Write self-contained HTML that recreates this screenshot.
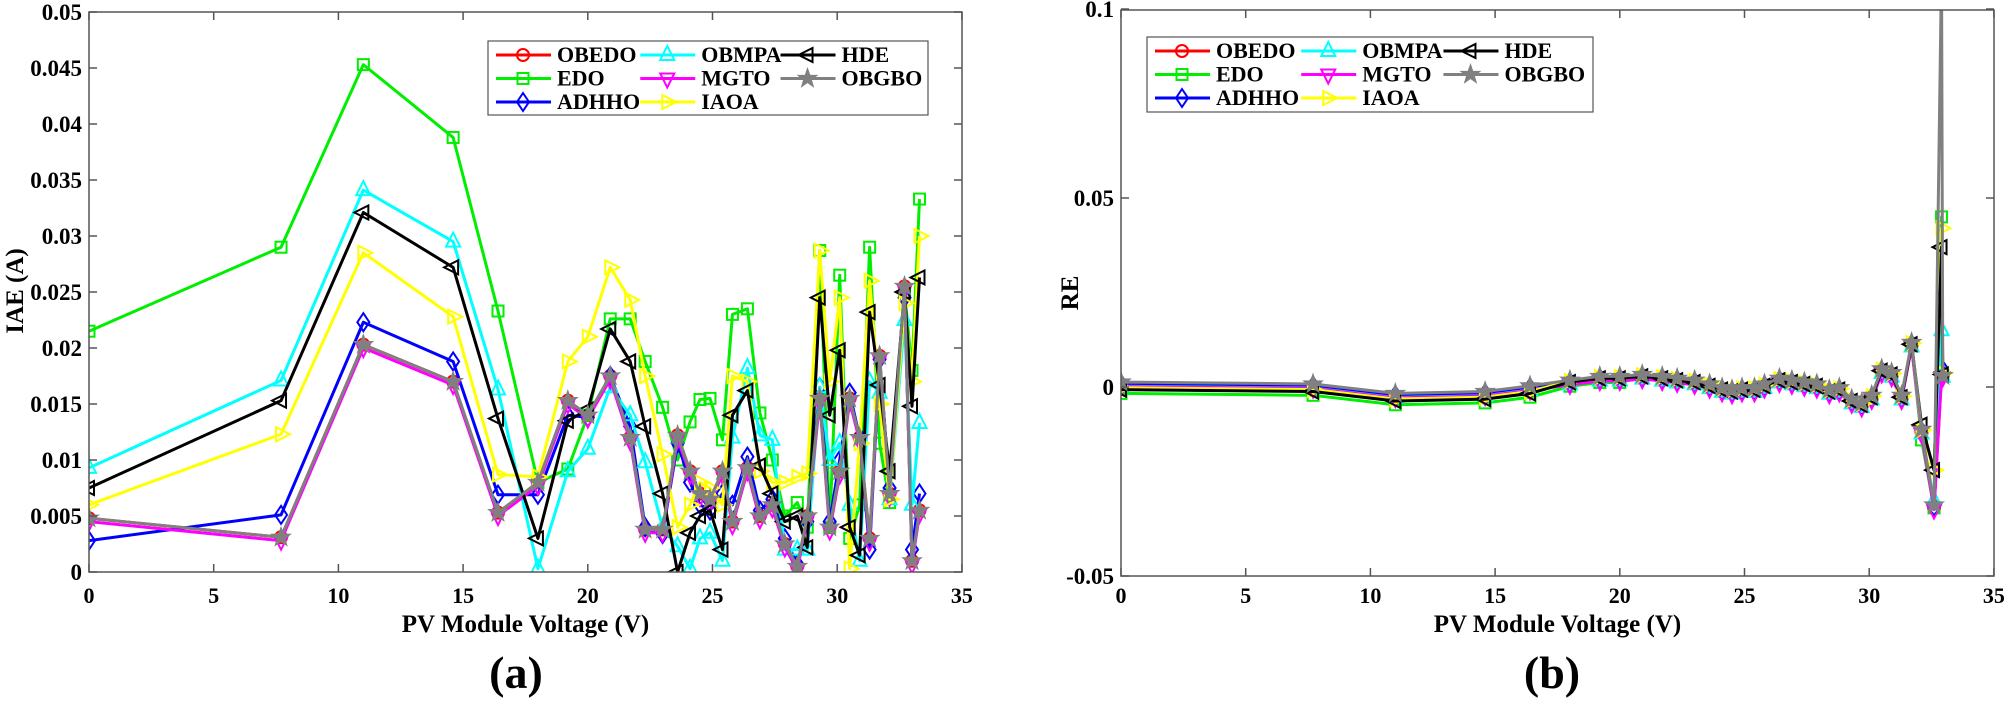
<!DOCTYPE html>
<html><head><meta charset="utf-8">
<style>
html,body{margin:0;padding:0;background:#fff;font-family:"Liberation Serif","DejaVu Serif",serif;}
svg{display:block;}
text{font-family:"Liberation Serif","DejaVu Serif",serif;font-weight:bold;fill:#000;}
</style></head>
<body>
<svg id="s" xmlns="http://www.w3.org/2000/svg" width="2007" height="702" viewBox="0 0 2007 702">
<rect width="2007" height="702" fill="#fff"/>
<defs>
<clipPath id="cl"><rect x="89" y="12" width="873" height="560"/></clipPath>
<clipPath id="cr"><rect x="1121" y="10" width="873" height="566"/></clipPath>
</defs>
<g id="L" clip-path="url(#cl)"></g>
<g id="R" clip-path="url(#cr)"></g>
<g id="ax"></g>
</svg>
<script>
const NS="http://www.w3.org/2000/svg";
function el(p,t,a){const e=document.createElementNS(NS,t);for(const k in a)e.setAttribute(k,a[k]);if(t==='text'){e.setAttribute('font-family','Liberation Serif, DejaVu Serif, serif');e.setAttribute('font-weight','bold');e.style.fontFamily='"Liberation Serif","DejaVu Serif",serif';}p.appendChild(e);return e;}
const svg=document.getElementById('s'),AX=document.getElementById('ax');
const X=[0,7.7,11,14.6,16.4,18,19.2,20,20.9,21.7,22.3,23,23.6,24.1,24.5,24.9,25.4,25.8,26.4,26.9,27.4,27.9,28.4,28.8,29.3,29.7,30.1,30.5,30.9,31.3,31.7,32.1,32.7,33.0,33.3];
const XR=[0,7.7,11,14.6,16.4,18,19.2,20,20.9,21.7,22.3,23,23.6,24.1,24.5,24.9,25.4,25.8,26.4,26.9,27.4,27.9,28.4,28.8,29.3,29.7,30.1,30.5,30.9,31.3,31.7,32.1,32.6,32.9,32.95];
const S={
EDO:[21.5,29,45.3,38.8,23.3,8,9.2,14,22.6,22.6,18.8,14.7,10,13.4,15.4,15.5,11.8,23,23.5,14.2,10,5,6.2,4,28.7,4,26.5,3,6,29,11.5,6.2,25,18,33.3],
OBMPA:[9.3,17.1,34.1,29.5,16.3,0.3,9,11,16.5,14,9.8,4,2.3,0.3,3,3.5,1,12,18.2,12.2,11.8,2,2,2,16.5,10,11.5,6,1,17,16,6.5,22.5,6,13.3],
HDE:[7.5,15.3,32.1,27.2,13.7,3,13.5,14.5,21.7,18.8,13,7,0,3.5,5,5.5,2,14,16.2,9.5,7,4.5,5,2.2,24.5,14,19.8,4,1.5,23.2,16.7,9,25,14.8,26.3],
IAOA:[6,12.3,28.5,22.8,8.7,8.5,18.8,21,27.2,24.3,17.5,10.5,4,6,8,7.5,6,17.5,17,9,8,8,8.5,8.8,28.7,17,24.5,0.3,11.5,26,15,6.5,24,17,30],
ADHHO:[2.8,5.1,22.3,18.8,6.9,6.9,14,13.8,17.5,13,4,3.4,11.5,8,6,5.5,7,6,10.3,5.5,6.5,3,0.7,4.5,16.5,4.5,10,16,12,2,19,7.5,24.5,2,7],
G:[4.8,3.1,20.3,17,5.3,8,15.3,14,17.5,12,3.8,3.8,12.2,9,7,6.5,9,4.5,9.3,5,6,2.5,0.5,5,15.5,4,9,15.5,12,3,19.3,7,25.5,1,5.5]};
const RB=[0.5,0,-2.5,-2,-0.5,1,2,2,2.5,2,1.5,1,0,-1,-1.5,-1,-1,0,1.5,1,0.5,0,-1.5,-1,-4,-5,-3,4,3,-3,11,-12,-32,3,3];
function rs(off,over){return RB.map((v,i)=>(over&&over[i]!==undefined)?over[i]:v+(typeof off==='function'?off(i):off));}
const grOff=i=>i<5?-2.2:(i<8?-0.8:0);
const R={
OBEDO:rs(0),EDO:rs(grOff,{31:-14,33:45}),ADHHO:rs(0.3,{33:5}),OBMPA:rs(-0.3,{32:-30,33:15}),
MGTO:rs(-0.4),IAOA:rs(i=>i<5?-0.7:0.6,{33:42,32:-22}),HDE:rs(i=>i<5?-1.2:0.3,{33:37,32:-22,31:-10}),OBGBO:rs(0.8,{33:110,34:3})};
function marker(g,type,x,y,c){
 const w=2;
 const st={fill:'none',stroke:c,'stroke-width':w};
 if(type==='o')el(g,'circle',Object.assign({cx:x,cy:y,r:6},st));
 else if(type==='s')el(g,'rect',Object.assign({x:x-5.5,y:y-5.5,width:11,height:11},st));
 else if(type==='d')el(g,'polygon',Object.assign({points:`${x},${y-9} ${x+6},${y} ${x},${y+9} ${x-6},${y}`},st));
 else if(type==='^')el(g,'polygon',Object.assign({points:`${x},${y-9} ${x+7},${y+5} ${x-7},${y+5}`},st));
 else if(type==='v')el(g,'polygon',Object.assign({points:`${x},${y+9} ${x+7},${y-5} ${x-7},${y-5}`},st));
 else if(type==='>')el(g,'polygon',Object.assign({points:`${x+9},${y} ${x-5},${y+7} ${x-5},${y-7}`},st));
 else if(type==='<')el(g,'polygon',Object.assign({points:`${x-9},${y} ${x+5},${y+7} ${x+5},${y-7}`},st));
 else if(type==='*'){let p=[];for(let k=0;k<10;k++){const r=k%2?4:10,a=-Math.PI/2+k*Math.PI/5;p.push((x+r*Math.cos(a)).toFixed(1)+','+(y+r*Math.sin(a)).toFixed(1));}
  el(g,'polygon',{points:p.join(' '),fill:c,stroke:c,'stroke-width':1});}
}
function series(g,xs,ys,fx,fy,c,m){
 el(g,'polyline',{points:xs.map((x,i)=>fx(x)+','+fy(ys[i])).join(' '),fill:'none',stroke:c,'stroke-width':3,'stroke-linejoin':'round'});
 xs.forEach((x,i)=>marker(g,m,fx(x),fy(ys[i]),c));
}
const fxL=v=>89+v*24.94, fyL=v=>572-v*11.2;
const fxR=v=>1121+v*24.94, fyR=v=>387-v*3.78;
const L=document.getElementById('L'),Rg=document.getElementById('R');
const order=[['OBEDO','#ff0000','o'],['EDO','#00ee00','s'],['ADHHO','#0000ff','d'],['OBMPA','#00ffff','^'],['MGTO','#ff00ff','v'],['IAOA','#ffff00','>'],['HDE','#000000','<'],['OBGBO','#808080','*']];
const Lmap={OBEDO:S.G,EDO:S.EDO,ADHHO:S.ADHHO,OBMPA:S.OBMPA,MGTO:S.G.map(v=>v-0.3),IAOA:S.IAOA,HDE:S.HDE,OBGBO:S.G};
order.forEach(([n,c,m])=>{series(L,X,Lmap[n],fxL,fyL,c,m);series(Rg,XR,R[n],fxR,fyR,c,m);});
function axes(x0,y0,x1,y1,yt,fy){
 el(AX,'rect',{x:x0,y:y0,width:x1-x0,height:y1-y0,fill:'none',stroke:'#555','stroke-width':1.5});
 for(let v=0;v<=35;v+=5){const x=x0+v*24.94;
  el(AX,'line',{x1:x,y1:y1,x2:x,y2:y1-8,stroke:'#555','stroke-width':1.5});
  el(AX,'line',{x1:x,y1:y0,x2:x,y2:y0+8,stroke:'#555','stroke-width':1.5});
  const t=el(AX,'text',{x:x,y:603,'text-anchor':'middle','font-size':22});t.textContent=v;}
 yt.forEach(([v,s])=>{const y=fy(v);
  el(AX,'line',{x1:x0,y1:y,x2:x0+8,y2:y,stroke:'#555','stroke-width':1.5});
  el(AX,'line',{x1:x1,y1:y,x2:x1-8,y2:y,stroke:'#555','stroke-width':1.5});
  const t=el(AX,'text',{x:x0-7,y:y+8,'text-anchor':'end','font-size':23});t.textContent=s;});
 const t=el(AX,'text',{x:(x0+x1)/2,y:632,'text-anchor':'middle','font-size':25});t.textContent='PV Module Voltage (V)';
}
const ytl=[];for(let k=0;k<=10;k++){const v=k*5;ytl.push([v,k==0?'0':(v/1000).toString()]);}
axes(89,12,962,572,ytl,fyL);
axes(1121,10,1994,576,[[100,'0.1'],[50,'0.05'],[0,'0'],[-50,'-0.05']],fyR);
let t=el(AX,'text',{x:0,y:0,'text-anchor':'middle','font-size':25,transform:'translate(23,291) rotate(-90)'});t.textContent='IAE (A)';
t=el(AX,'text',{x:0,y:0,'text-anchor':'middle','font-size':25,transform:'translate(1078,293) rotate(-90)'});t.textContent='RE';
t=el(AX,'text',{x:516,y:688,'text-anchor':'middle','font-size':46});t.textContent='(a)';
t=el(AX,'text',{x:1552,y:688,'text-anchor':'middle','font-size':46});t.textContent='(b)';
function legend(x,y,w,h,fs){
 el(AX,'rect',{x:x,y:y,width:w,height:h,fill:'#fff',stroke:'#555','stroke-width':1.2});
 const cols=[[0,1,2],[3,4,5],[6,7]];const cw=w/3.05;
 cols.forEach((col,ci)=>col.forEach((idx,ri)=>{const [n,c,m]=order[idx];
  const lx=x+8+ci*cw+(ci==2?-4:0), ly=y+14+ri*23.5;
  el(AX,'line',{x1:lx,y1:ly,x2:lx+55,y2:ly,stroke:c,'stroke-width':3});
  marker(AX,m,lx+27,ly,c);
  const tt=el(AX,'text',{x:lx+61,y:ly+7,'font-size':fs});tt.textContent=n;}));
}
legend(488,41,440,74,22);
legend(1147,37,446,75,22);
</script>
</body></html>
